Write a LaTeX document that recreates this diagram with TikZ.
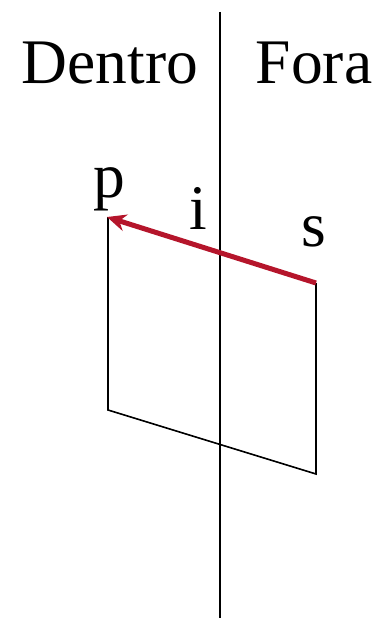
\documentclass[tikz,border=0pt]{standalone}
\usepackage{fontspec}
\setmainfont{Liberation Serif}
\usetikzlibrary{arrows.meta}
\definecolor{ink}{HTML}{000000}
\definecolor{raio}{HTML}{B5152B}
\tikzset{
  rot/.style={font=\fontsize{63.5pt}{68pt}\selectfont,inner sep=0pt,text=ink,anchor=base},
  aresta/.style={draw=ink,line width=1.6pt},
  >=Stealth}
\begin{document}
\begin{tikzpicture}[x=1pt,y=-1pt]
\useasboundingbox (0,0) rectangle (377,618);

\coordinate (topo) at (220,12);
\coordinate (base) at (220,618);
\coordinate (p) at (107,217);
\coordinate (s) at (316,283);
\coordinate (q) at (108,410);
\coordinate (r) at (316,474);

\node[rot] (dentro) at (110,84) {Dentro};
\node[rot] (fora) at (314,84) {Fora};
\node[rot] (lp) at (109,197) {p};
\node[rot] (li) at (198,229) {i};
\node[rot] (ls) at (314,246) {s};

\draw[aresta] (topo) -- (base);
\draw[aresta] (p) ++(1,0) -- (q) -- (r) -- (s);
\draw[-{Stealth[length=19pt,width=17pt]},raio,line width=5pt] (s) -- (p);
\end{tikzpicture}
\end{document}
